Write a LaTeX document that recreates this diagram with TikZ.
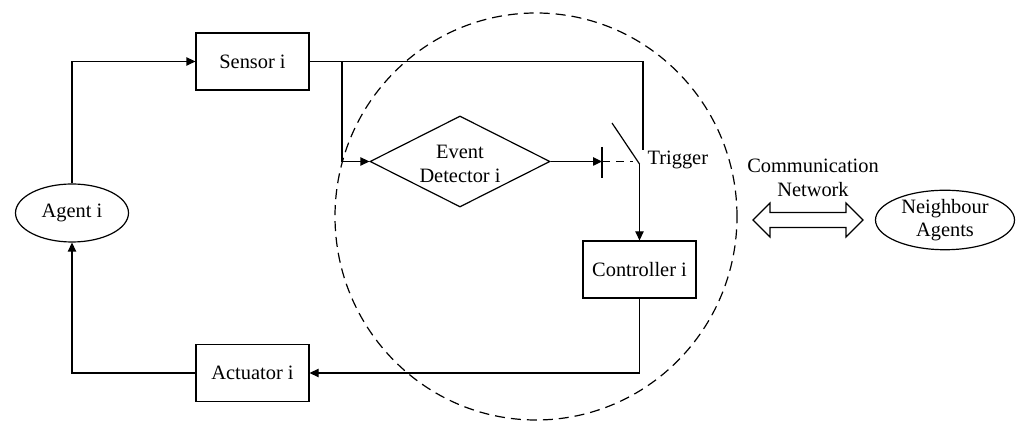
\documentclass[tikz,border=0pt]{standalone}
\usepackage{fontspec}
\setmainfont{Liberation Serif}
\usetikzlibrary{arrows.meta,shapes.geometric}
\begin{document}
\begin{tikzpicture}[x=0.5pt,y=-0.5pt,
  line width=0.6pt,
  font=\fontsize{10.2pt}{11.75pt}\selectfont,
  tip/.style={-{Triangle[length=4.5pt,width=4.2pt]}},
  blockbox/.style={draw,rectangle,minimum width=56.5pt,minimum height=28.5pt,inner sep=0pt},
  ovalbox/.style={draw,ellipse,inner sep=0pt,align=center},
  zonedash/.style={dash pattern=on 5pt off 3pt}]
\useasboundingbox (0,0) rectangle (1017,421);

% zone
\node (zone) [draw,ellipse,zonedash,minimum width=201pt,minimum height=203.5pt,inner sep=0pt] at (536,216.5) {};

% blocks
\node (agent) [ovalbox,minimum width=56.5pt,minimum height=29pt] at (72,213) {Agent i};
\node (sensor) [blockbox] at (252.5,61.5) {Sensor i};
\node (actuator) [blockbox] at (252.5,373) {Actuator i};
\node (ctrl) [blockbox] at (639.5,269.5) {Controller i};
\node (det) [draw,diamond,minimum width=90pt,minimum height=45.5pt,inner sep=0pt] at (460,161.5) {};
\node (dettext) [align=center] at (460,164) {Event\\Detector i};
\node (neigh) [ovalbox,minimum width=69.5pt,minimum height=28pt] at (945,220) {Neighbour\\Agents};

% labels
\node (trig) [anchor=west,inner sep=0pt] at (647,160) {Trigger};
\node (comm) [align=center,inner sep=0pt] at (813,178) {Communication\\Network};

% switch coordinates
\coordinate (br) at (342,61.5);
\coordinate (ctop) at (643,150);
\coordinate (tick) at (602,161.5);
\coordinate (tickup) at (602,147);
\coordinate (tickdn) at (602,178);
\coordinate (dashend) at (633,161.5);
\coordinate (bladeend) at (612,123);
\coordinate (pivot) at (639.5,164);

% connectors
\draw[tip] (agent.north) |- (sensor.west);
\draw (sensor.east) -| (ctop);
\draw[tip] (br) |- (det.west);
\draw[tip] (det.east) -- (tick);
\draw (tickup) -- (tickdn);
\draw[dashed,dash pattern=on 4pt off 3pt] (tick) -- (dashend);
\draw (bladeend) -- (pivot);
\draw[tip] (pivot) -- (ctrl.north);
\draw[tip] (ctrl.south) |- (actuator.east);
\draw[tip] (actuator.west) -| (agent.south);

% double arrow
\coordinate (dal) at (753,220);
\coordinate (dar) at (863,220);
\draw (dal) -- (770,203) -- (770,212.5) -- (846,212.5) -- (846,203) -- (dar)
  -- (846,237) -- (846,227.5) -- (770,227.5) -- (770,237) -- cycle;
\end{tikzpicture}
\end{document}
